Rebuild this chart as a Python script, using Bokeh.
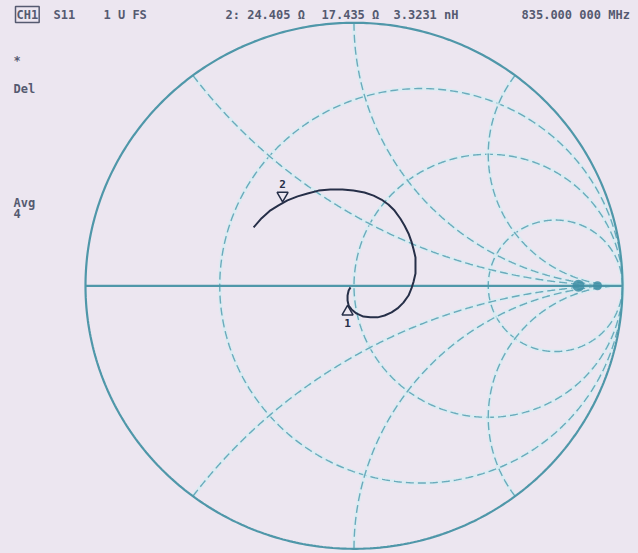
import numpy as np
from bokeh.plotting import figure
from bokeh.models import Range1d, Label
from bokeh.embed import file_html
from bokeh.resources import INLINE
from bokeh.core.properties import value

# ---------------- data ----------------
# Smith chart grid values
r_circles = [1/3, 1.0, 3.0]
x_arcs = [0.5, 1.0, 2.0, -0.5, -1.0, -2.0]

# measured S11 trace (reflection coefficient, real / imaginary)
trace_re = [-0.013, -0.020, -0.024, -0.024, -0.020, -0.009, 0.009, 0.035, 0.061, 0.088,
            0.114, 0.140, 0.162, 0.184, 0.203, 0.214, 0.222, 0.229, 0.229, 0.229,
            0.222, 0.214, 0.203, 0.188, 0.173, 0.151, 0.128, 0.102, 0.073, 0.039,
            -0.002, -0.043, -0.088, -0.132, -0.173, -0.210, -0.248, -0.281, -0.311,
            -0.344, -0.374]
trace_im = [-0.006, -0.018, -0.037, -0.056, -0.075, -0.090, -0.105, -0.117, -0.120, -0.120,
            -0.113, -0.101, -0.086, -0.064, -0.037, -0.010, 0.016, 0.047, 0.077, 0.108,
            0.138, 0.168, 0.199, 0.229, 0.255, 0.286, 0.309, 0.328, 0.343, 0.355,
            0.362, 0.366, 0.366, 0.362, 0.351, 0.340, 0.325, 0.306, 0.287,
            0.257, 0.222]

# markers
marker_labels = ["1", "2"]
marker_re = [-0.024, -0.266]
marker_im = [-0.072, 0.317]

# grid convergence dots near the right end
dot_re = [0.836, 0.907]
dot_im = [0.0, 0.0]

# annunciator texts
header_texts = ["S11", "1 U FS", "2: 24.405 \u03a9", "17.435 \u03a9", "3.3231 nH", "835.000 000 MHz"]
channel_text = "CH1"
side_texts = ["*", "Del", "Avg", "4"]

# ---------------- geometry / style ----------------
BG = "#ece6f0"
GRID = "#6aabbc"
HALO = "#d6ecf2"
EDGE = "#4f97a9"
TRACE = "#262f48"
TXT = "#555a70"

# pixel <-> reflection coefficient mapping of the screen
CX, CY, SX, SY = 353.5, 285.3, 268.5, 263.0
W, H = 638, 553


def gx(px):
    return (px - CX) / SX


def gy(py):
    return (CY - py) / SY


p = figure(width=W, height=H, output_backend="svg", toolbar_location=None,
           x_range=Range1d(gx(0), gx(W)), y_range=Range1d(gy(H), gy(0)),
           min_border=0, background_fill_color=BG, border_fill_color=BG,
           outline_line_color=None)
p.axis.visible = False
p.grid.visible = False

# constant-resistance circles
th = np.linspace(0, 2 * np.pi, 500)
for r in r_circles:
    c, rad = r / (1 + r), 1 / (1 + r)
    xs, ys = c + rad * np.cos(th), rad * np.sin(th)
    p.line(xs, ys, line_color=HALO, line_width=4, line_alpha=0.7)
    p.line(xs, ys, line_color=GRID, line_width=1.4, line_dash="8 4")

# constant-reactance arcs
for x in x_arcs:
    ax = abs(x)
    R = 1 / ax
    g0x, g0y = (ax**2 - 1) / (ax**2 + 1), 2 * ax / (ax**2 + 1)
    a0 = np.arctan2(g0y - R, g0x - 1) % (2 * np.pi)
    a = np.linspace(a0, 1.5 * np.pi, 400)
    xs = 1 + R * np.cos(a)
    ys = R + R * np.sin(a)
    if x < 0:
        ys = -ys
    p.line(xs, ys, line_color=HALO, line_width=4, line_alpha=0.7)
    p.line(xs, ys, line_color=GRID, line_width=1.4, line_dash="8 4")

# outer circle and real axis
p.line(np.cos(th), np.sin(th), line_color=EDGE, line_width=2.2)
p.line([-1, 1], [0, 0], line_color=EDGE, line_width=2.2)

p.scatter(dot_re, dot_im, size=[12, 9], fill_color="#3e8ea5", line_color=None, fill_alpha=0.85)

# trace
p.line(trace_re, trace_im, line_color=TRACE, line_width=2.0, line_join="round")

# markers (triangles drawn next to the trace point)
FONT = "DejaVu Sans Mono"
off = 7 / SY
p.scatter([marker_re[0]], [marker_im[0] - off], marker="triangle", size=11,
          fill_color=None, line_color=TRACE, line_width=1.5)
p.scatter([marker_re[1]], [marker_im[1] + off], marker="inverted_triangle", size=11,
          fill_color=None, line_color=TRACE, line_width=1.5)
p.text([marker_re[0]], [marker_im[0] - 18 / SY], text=[marker_labels[0]],
       text_font_size="11px", text_align="center", text_baseline="middle",
       text_color=TRACE, text_font=value(FONT), text_font_style="bold")
p.text([marker_re[1]], [marker_im[1] + 18 / SY], text=[marker_labels[1]],
       text_font_size="11px", text_align="center", text_baseline="middle",
       text_color=TRACE, text_font=value(FONT), text_font_style="bold")

# annunciators
FS = "12px"
p.add_layout(Label(x=gx(15), y=gy(14), text=channel_text, text_font=FONT,
                   text_font_size=FS, text_color=TXT, text_baseline="middle",
                   text_font_style="bold",
                   border_line_color=TXT, border_line_width=1.5, padding=1))
header_x = [53, 103, 225, 321, 393, 521]
for t, hx in zip(header_texts, header_x):
    p.add_layout(Label(x=gx(hx), y=gy(14), text=t, text_font=FONT, text_font_size=FS,
                       text_color=TXT, text_baseline="middle", text_font_style="bold"))
side_y = [60, 88, 202, 213]
for t, sy in zip(side_texts, side_y):
    p.add_layout(Label(x=gx(13), y=gy(sy), text=t, text_font=FONT, text_font_size=FS,
                       text_color=TXT, text_baseline="middle", text_font_style="bold"))

html = file_html(p, INLINE)
html = html.replace("<head>", "<head><style>html,body{margin:0;padding:0;background:%s;overflow:hidden;}</style>" % BG, 1)
open("out.html", "w").write(html)
